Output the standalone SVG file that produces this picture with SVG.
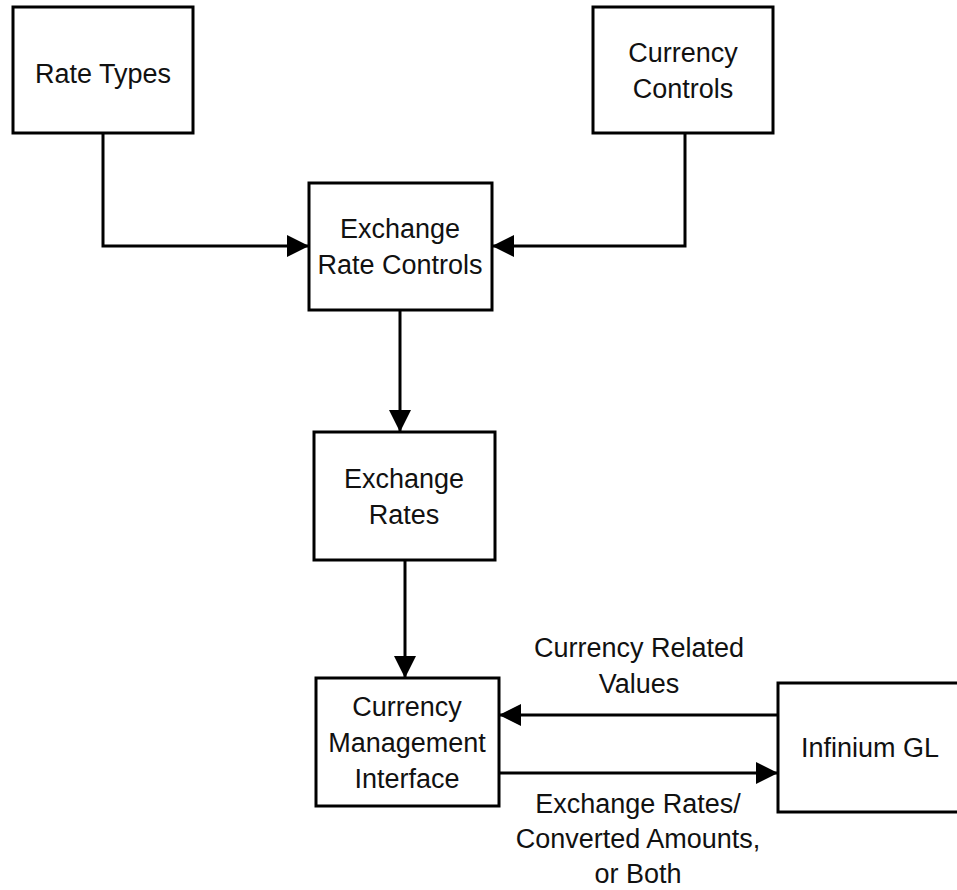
<svg xmlns="http://www.w3.org/2000/svg" width="957" height="890" viewBox="0 0 957 890">
  <style>
    .box { fill: #ffffff; stroke: #000000; stroke-width: 3; }
    .wire { fill: none; stroke: #000000; stroke-width: 3; marker-end: url(#head); }
    .lbl { font-family: "Liberation Sans", Arial, sans-serif; font-size: 27px; fill: #111111; text-anchor: middle; }
  </style>
  <defs>
    <marker id="head" markerUnits="userSpaceOnUse" markerWidth="22" markerHeight="22" refX="22" refY="11" orient="auto">
      <path d="M0,0 L22,11 L0,22 Z" fill="#000000"/>
    </marker>
  </defs>
  <rect width="957" height="890" fill="#ffffff"/>

  <g id="connectors">
    <path class="wire" d="M103,133 V246 H309"/>
    <path class="wire" d="M685,133 V246 H492"/>
    <path class="wire" d="M400,310 V432"/>
    <path class="wire" d="M405,560 V678"/>
    <path class="wire" d="M778,715 H499"/>
    <path class="wire" d="M499,773 H778"/>
  </g>

  <g id="rate-types">
    <rect class="box" x="13" y="7" width="180" height="126"/>
    <text class="lbl" x="103" y="83">Rate Types</text>
  </g>

  <g id="currency-controls">
    <rect class="box" x="593" y="7" width="180" height="126"/>
    <text class="lbl" x="683" y="62">Currency</text>
    <text class="lbl" x="683" y="98">Controls</text>
  </g>

  <g id="exchange-rate-controls">
    <rect class="box" x="309" y="183" width="183" height="127"/>
    <text class="lbl" x="400" y="238">Exchange</text>
    <text class="lbl" x="400" y="274">Rate Controls</text>
  </g>

  <g id="exchange-rates">
    <rect class="box" x="314" y="432" width="181" height="128"/>
    <text class="lbl" x="404" y="488">Exchange</text>
    <text class="lbl" x="404" y="524">Rates</text>
  </g>

  <g id="currency-management-interface">
    <rect class="box" x="316" y="678" width="183" height="128"/>
    <text class="lbl" x="407" y="716">Currency</text>
    <text class="lbl" x="407" y="752">Management</text>
    <text class="lbl" x="407" y="788">Interface</text>
  </g>

  <g id="infinium-gl">
    <rect class="box" x="778" y="683" width="200" height="129"/>
    <text class="lbl" x="870" y="757">Infinium GL</text>
  </g>

  <g id="flow-labels">
    <text class="lbl" x="639" y="657">Currency Related</text>
    <text class="lbl" x="639" y="693">Values</text>
    <text class="lbl" x="638" y="813">Exchange Rates/</text>
    <text class="lbl" x="638" y="848">Converted Amounts,</text>
    <text class="lbl" x="638" y="883">or Both</text>
  </g>
</svg>
